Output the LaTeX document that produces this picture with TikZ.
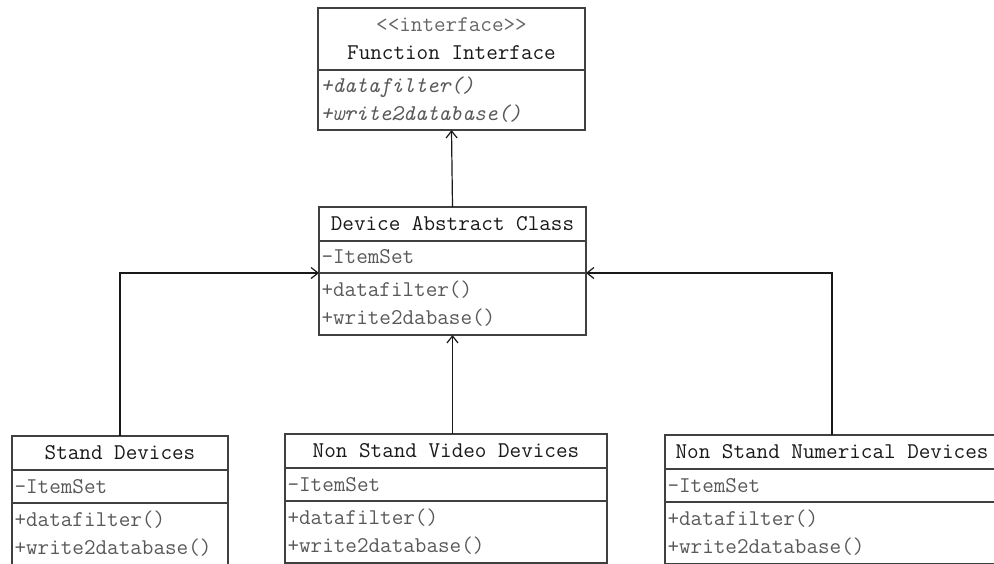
\documentclass[tikz,border=0pt]{standalone}
\usepackage{fontspec}
\usetikzlibrary{arrows.meta,positioning}
\newcommand{\classfont}{\ttfamily\fontsize{22.5}{28}\selectfont}
\tikzset{
  comp/.style={draw=black!75,line width=1.2pt,inner sep=0pt,outer sep=0pt,font=\classfont},
  head/.style={comp,minimum width=#1,minimum height=34pt,align=center,text=black!90},
  attr/.style={comp,minimum width=#1,text width=#1-5pt,minimum height=33pt,align=left,text=black!65},
  ops/.style={comp,minimum width=#1,text width=#1-5pt,minimum height=62pt,align=left,text=black!65},
  gen/.style={-{Straight Barb[length=7pt,width=11pt]},line width=1.2pt,black!90}
}
\begin{document}
\begin{tikzpicture}[x=1pt,y=-1pt]
  \useasboundingbox (0,0) rectangle (994,563);
  % interface
  \node[head=267pt,minimum height=62pt,anchor=north] (fi-head) at (451.5,8)
    {{\color{black!60}<<interface>>}\\Function Interface};
  \node[ops=267pt,minimum height=60pt,font=\classfont\itshape,below=0pt of fi-head] (fi-ops)
    {+datafilter()\\+write2database()};
  % abstract class
  \node[head=267pt,anchor=north] (dev-head) at (452.5,207) {Device Abstract Class};
  \node[attr=267pt,minimum height=32pt,below=0pt of dev-head] (dev-attr) {-ItemSet};
  \node[ops=267pt,below=0pt of dev-attr] (dev-ops) {+datafilter()\\+write2dabase()};
  % devices
  \node[head=216pt,anchor=north] (sd-head) at (120,436) {Stand Devices};
  \node[attr=216pt,below=0pt of sd-head] (sd-attr) {-ItemSet};
  \node[ops=216pt,below=0pt of sd-attr] (sd-ops) {+datafilter()\\+write2database()};
  \node[head=322pt,anchor=north] (nsv-head) at (446,434) {Non Stand Video Devices};
  \node[attr=322pt,below=0pt of nsv-head] (nsv-attr) {-ItemSet};
  \node[ops=322pt,below=0pt of nsv-attr] (nsv-ops) {+datafilter()\\+write2database()};
  \node[head=334pt,anchor=north] (nsn-head) at (832,435) {Non Stand Numerical Devices};
  \node[attr=334pt,below=0pt of nsn-head] (nsn-attr) {-ItemSet};
  \node[ops=334pt,below=0pt of nsn-attr] (nsn-ops) {+datafilter()\\+write2database()};
  % connectors
  \draw[gen] (dev-head.north) -- (fi-ops.south);
  \draw[gen] (nsv-head.north -| dev-ops.south) -- (dev-ops.south);
  \draw[gen] (sd-head.north) |- (dev-attr.south west);
  \draw[gen] (nsn-head.north) |- (dev-attr.south east);
\end{tikzpicture}
\end{document}
